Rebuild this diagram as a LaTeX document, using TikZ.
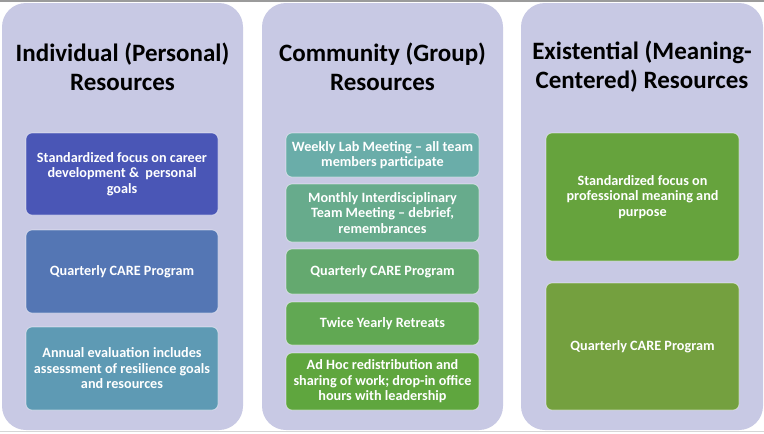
\documentclass[tikz,border=0pt]{standalone}
\usepackage{fontspec}
\setmainfont{Carlito}
\usetikzlibrary{positioning}
\definecolor{panelbg}{HTML}{C8C9E4}
\definecolor{topline}{HTML}{9B9B9B}
\definecolor{botline}{HTML}{D6D6D6}
\definecolor{blueA}{HTML}{4A56B6}
\definecolor{blueB}{HTML}{5476B4}
\definecolor{blueC}{HTML}{5E9AB4}
\definecolor{tealA}{HTML}{6AADA9}
\definecolor{tealB}{HTML}{67AB8C}
\definecolor{greenA}{HTML}{64A96F}
\definecolor{greenB}{HTML}{61A853}
\definecolor{greenC}{HTML}{5FA63E}
\definecolor{greenD}{HTML}{66A33D}
\definecolor{greenE}{HTML}{74A03F}
\tikzset{
  panel/.style={fill=panelbg, rounded corners=24pt, minimum width=241pt, minimum height=427pt, inner sep=0pt},
  heading/.style={align=center, font=\fontsize{25}{29}\selectfont\bfseries, text=black},
  item/.style={draw=white, draw opacity=0.55, line width=0.7pt, rounded corners=6pt, align=center, text=white,
    font=\fontsize{14.2}{15.5}\selectfont\bfseries, minimum width=193pt, inner sep=2pt},
}
\begin{document}
\begin{tikzpicture}[x=1pt,y=-1pt]
\useasboundingbox (0,0) rectangle (764,434);
\fill[white] (0,0) rectangle (764,434);
\node[panel] (c1) at (122.5,216.5) {};
\node[panel] (c2) at (382.5,216.5) {};
\node[panel, minimum width=242pt] (c3) at (642,216.5) {};
\draw[topline, line width=2.5pt] (0,1.2) -- (764,1.2);
\draw[botline, line width=1pt] (0,431.5) -- (764,431.5);
\node[heading] (h1) at (122.5,67) {Individual (Personal)\\Resources};
\node[heading] (h2) at (382.5,67) {Community (Group)\\Resources};
\node[heading] (h3) at (642,67) {Existential (Meaning-\\Centered) Resources};
\node[item, fill=blueA, minimum width=192pt, minimum height=82pt] (i1) at (122,174) {Standardized focus on career\\development \&\ \ personal\\goals};
\node[item, fill=blueB, minimum width=192pt, minimum height=83pt] (i2) at (122,271.5) {Quarterly CARE Program};
\node[item, fill=blueC, minimum width=192pt, minimum height=83pt] (i3) at (122,368.5) {Annual evaluation includes\\assessment of resilience goals\\and resources};
\node[item, fill=tealA, minimum height=44pt] (g1) at (382.5,155) {Weekly Lab Meeting -- all team\\members participate};
\node[item, fill=tealB, minimum height=58pt] (g2) at (382.5,213) {Monthly Interdisciplinary\\Team Meeting -- debrief,\\remembrances};
\node[item, fill=greenA, minimum height=45pt] (g3) at (382.5,271.5) {Quarterly CARE Program};
\node[item, fill=greenB, minimum height=43pt] (g4) at (382.5,323.5) {Twice Yearly Retreats};
\node[item, fill=greenC, minimum height=57pt] (g5) at (382.5,381.5) {Ad Hoc redistribution and\\sharing of work; drop-in office\\hours with leadership};
\node[item, fill=greenD, minimum height=128pt] (e1) at (642.5,197) {Standardized focus on\\professional meaning and\\purpose};
\node[item, fill=greenE, minimum height=127pt] (e2) at (642.5,346.5) {Quarterly CARE Program};
\end{tikzpicture}
\end{document}
